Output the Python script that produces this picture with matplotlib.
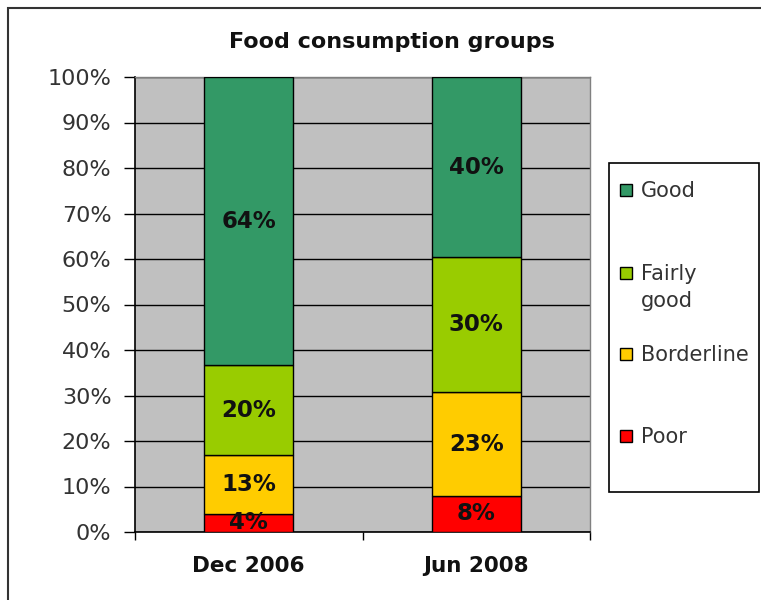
import matplotlib
matplotlib.use("Agg")
import matplotlib.pyplot as plt
from matplotlib.patches import Rectangle
import numpy as np

categories = ["Dec 2006", "Jun 2008"]
series = ["Poor", "Borderline", "Fairly good", "Good"]
legend_labels = {"Poor": "Poor", "Borderline": "Borderline", "Fairly good": "Fairly\ngood", "Good": "Good"}
values = {
    "Poor": [4, 8],
    "Borderline": [13, 23],
    "Fairly good": [20, 30],
    "Good": [64, 40],
}
colors = {"Poor": "#FF0000", "Borderline": "#FFCC00", "Fairly good": "#99CC00", "Good": "#339966"}
yticks = [0, 10, 20, 30, 40, 50, 60, 70, 80, 90, 100]

plt.rcParams['font.family'] = ['DejaVu Sans']
W, H = 761, 600
fig = plt.figure(figsize=(W / 100, H / 100), dpi=100)
fig.patch.set_facecolor("white")

ax = fig.add_axes([135 / W, 1 - 532 / H, (590 - 135) / W, (532 - 77) / H])
ax.set_facecolor("#C0C0C0")

x = np.arange(len(categories))
totals = np.sum([values[s] for s in series], axis=0)
bottom = np.zeros(len(categories))
for s in series:
    v = np.array(values[s], dtype=float)
    pct = v / totals * 100
    ax.bar(x, pct, bottom=bottom, width=0.39, color=colors[s], edgecolor="black", linewidth=1.0, zorder=3)
    for xi, b, p, raw in zip(x, bottom, pct, values[s]):
        ax.text(xi, b + p / 2, f"{raw}%", ha="center", va="center", fontsize=16.5,
                fontweight="bold", color="#111111", zorder=4)
    bottom += pct

ax.set_xlim(-0.5, len(categories) - 0.5)
ax.set_ylim(0, 100)
ax.set_yticks(yticks)
ax.set_yticklabels([f"{t}%" for t in yticks], fontsize=16, color="#333333")
ax.yaxis.grid(True, color="black", linewidth=1.0, zorder=1)
ax.set_axisbelow(True)
ax.tick_params(axis="y", length=8, width=1, pad=9, color="black")

ax.set_xticks(np.arange(len(categories) + 1) - 0.5)
ax.set_xticklabels([])
ax.tick_params(axis="x", which="major", length=6, width=1, direction="out")
ax.set_xticks(x, minor=True)
ax.set_xticklabels(categories, minor=True, fontsize=15.5, fontweight="bold", color="#111111")
ax.tick_params(axis="x", which="minor", length=0, pad=17)

for side in ["left", "bottom"]:
    ax.spines[side].set_color("black")
    ax.spines[side].set_linewidth(1.2)
for side in ["top", "right"]:
    ax.spines[side].set_color("#808080")
    ax.spines[side].set_linewidth(1.0)

fig.text(392 / W, 1 - 42 / H, "Food consumption groups", ha="center", va="center",
         fontsize=16, fontweight="bold", color="#111111")

# outer frame
fig.patches.append(Rectangle((8 / W, -0.05), 1.1, 1 - 8 / H + 0.05, transform=fig.transFigure,
                             fill=False, edgecolor="#333333", linewidth=1.5))

# legend box
lx0, ly0, lx1, ly1 = 609, 163, 759, 492
fig.patches.append(Rectangle((lx0 / W, 1 - ly1 / H), (lx1 - lx0) / W, (ly1 - ly0) / H,
                             transform=fig.transFigure, fill=True, facecolor="white",
                             edgecolor="black", linewidth=1.2))
leg_order = ["Good", "Fairly good", "Borderline", "Poor"]
leg_y = [190, 273, 354, 436]
for s, yy in zip(leg_order, leg_y):
    fig.patches.append(Rectangle((620 / W, 1 - (yy + 6) / H), 12 / W, 12 / H,
                                 transform=fig.transFigure, facecolor=colors[s],
                                 edgecolor="black", linewidth=1.0))
    for i, line in enumerate(legend_labels[s].split("\n")):
        fig.text(641 / W, 1 - (yy + 7 + i * 27) / H, line, ha="left", va="baseline",
                 fontsize=15, color="#333333")

fig.savefig("out.png", dpi=100)
